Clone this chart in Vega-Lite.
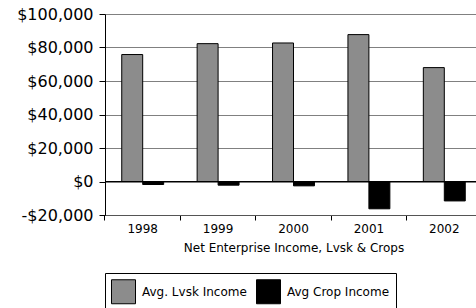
{
  "$schema": "https://vega.github.io/schema/vega-lite/v6.json",
  "width": 377,
  "height": 201,
  "autosize": {"type": "none"},
  "padding": {"left": 105, "top": 14, "right": 0, "bottom": 93},
  "background": "white",
  "config": {
    "view": {"stroke": null},
    "font": "DejaVu Sans"
  },
  "data": {
    "values": [
      {"Year": "1998", "Series": "Avg. Lvsk Income", "Income": 75800},
      {"Year": "1998", "Series": "Avg Crop Income", "Income": -1800},
      {"Year": "1999", "Series": "Avg. Lvsk Income", "Income": 82300},
      {"Year": "1999", "Series": "Avg Crop Income", "Income": -2200},
      {"Year": "2000", "Series": "Avg. Lvsk Income", "Income": 82700},
      {"Year": "2000", "Series": "Avg Crop Income", "Income": -2600},
      {"Year": "2001", "Series": "Avg. Lvsk Income", "Income": 87700},
      {"Year": "2001", "Series": "Avg Crop Income", "Income": -16300},
      {"Year": "2002", "Series": "Avg. Lvsk Income", "Income": 68000},
      {"Year": "2002", "Series": "Avg Crop Income", "Income": -11600}
    ]
  },
  "layer": [
    {
      "mark": {"type": "bar", "stroke": "black", "strokeWidth": 1},
      "encoding": {
        "x": {
          "field": "Year",
          "type": "nominal",
          "scale": {"paddingInner": 0.444, "paddingOuter": 0.222},
          "axis": {
            "title": "Net Enterprise Income, Lvsk & Crops",
            "titleFont": "DejaVu Sans",
            "titleFontSize": 12,
            "titleFontWeight": "normal",
            "titleColor": "black",
            "titlePadding": 8,
            "labelAngle": 0,
            "labelFontSize": 12,
            "labelColor": "black",
            "labelPadding": 3,
            "bandPosition": -0.4,
            "tickSize": 5,
            "tickColor": "black",
            "domainColor": "#555555",
            "grid": false
          }
        },
        "xOffset": {
          "field": "Series",
          "type": "nominal",
          "sort": ["Avg. Lvsk Income", "Avg Crop Income"],
          "scale": {"paddingInner": 0, "paddingOuter": 0}
        },
        "y": {
          "field": "Income",
          "type": "quantitative",
          "scale": {"domain": [-20000, 100000], "nice": false},
          "axis": {
            "title": null,
            "values": [-20000, 0, 20000, 40000, 60000, 80000, 100000],
            "tickCount": 12,
            "labelExpr": "datum.value < 0 ? '-$' + format(-datum.value, ',.0f') : '$' + format(datum.value, ',.0f')",
            "labelOverlap": false,
            "labelFlush": false,
            "labelFontSize": 16,
            "labelColor": "black",
            "labelPadding": 6,
            "tickSize": 6,
            "tickColor": "black",
            "domainColor": "black",
            "gridColor": "#808080",
            "gridOpacity": 1
          }
        },
        "color": {
          "field": "Series",
          "type": "nominal",
          "sort": ["Avg. Lvsk Income", "Avg Crop Income"],
          "scale": {"domain": ["Avg. Lvsk Income", "Avg Crop Income"], "range": ["#8c8c8c", "#000000"]},
          "legend": {
            "title": null,
            "orient": "none",
            "legendX": 0,
            "legendY": 259,
            "direction": "horizontal",
            "columns": 2,
            "columnPadding": 7,
            "padding": 6,
            "strokeColor": "black",
            "fillColor": "white",
            "symbolType": "square",
            "symbolSize": 576,
            "symbolStrokeColor": "black",
            "symbolStrokeWidth": 1,
            "symbolOpacity": 1,
            "labelFontSize": 12,
            "labelColor": "black",
            "labelOffset": 6
          }
        }
      }
    },
    {
      "mark": {"type": "rule", "color": "black", "strokeWidth": 1},
      "encoding": {"y": {"datum": 0}}
    }
  ]
}
